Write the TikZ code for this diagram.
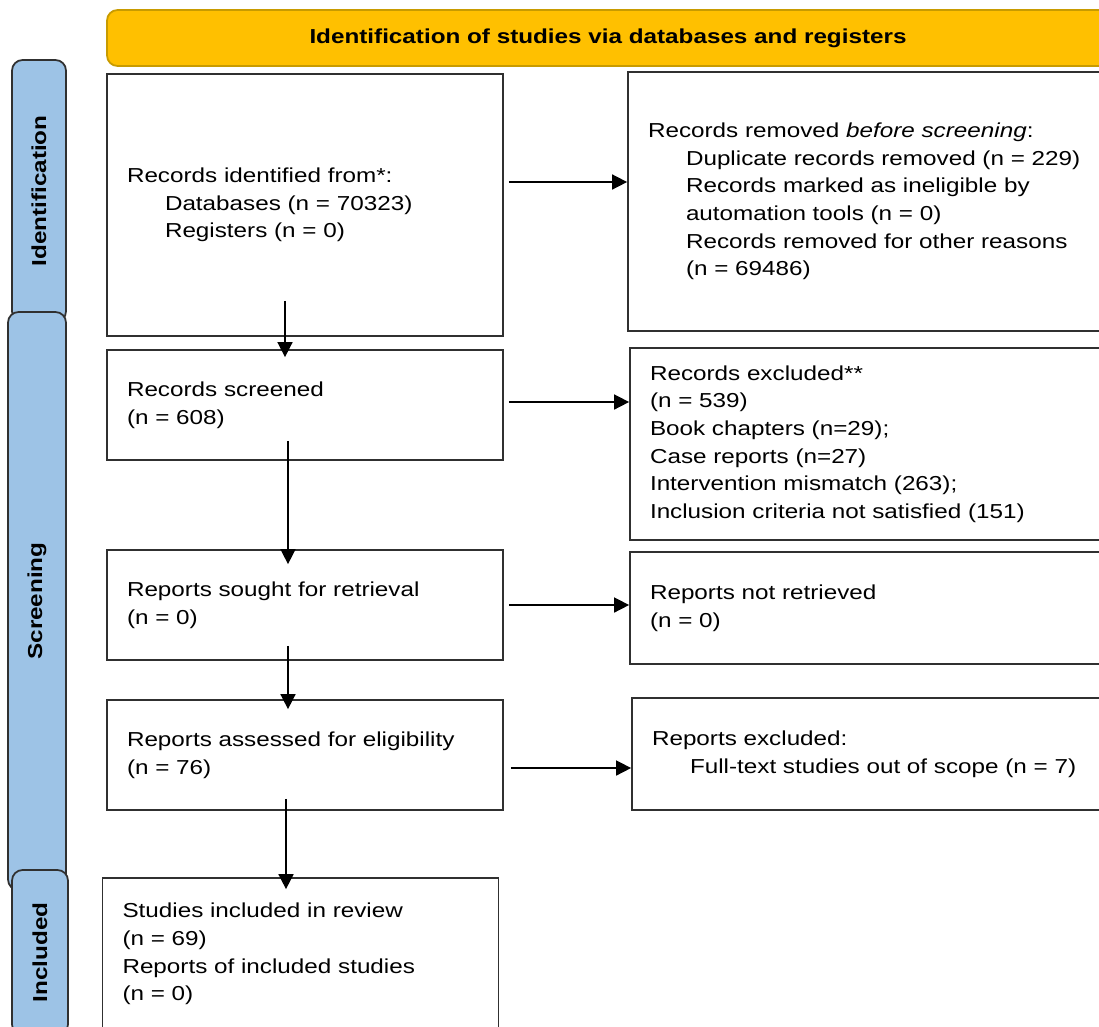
\documentclass[tikz,border=0pt]{standalone}
\usepackage{fontspec}
\setmainfont{Liberation Sans}[FakeStretch=1.2]
\usepackage{xcolor}
\usepackage{tikz}
\usetikzlibrary{arrows.meta,positioning,calc}

\definecolor{bannerfill}{HTML}{FFC000}
\definecolor{bannerline}{HTML}{C89B00}
\definecolor{tabfill}{HTML}{9DC3E6}
\definecolor{boxline}{HTML}{303030}

\begin{document}
\begin{tikzpicture}[
  stage/.style={draw=boxline, line width=1pt, fill=white, minimum width=7.92cm, text width=7.12cm, inner xsep=0.4cm, align=left, font=\fontsize{11.5}{15.7}\selectfont},
  side/.style={draw=boxline, line width=1pt, fill=white, minimum width=9.6cm, text width=8.8cm, inner xsep=0.4cm, align=left, font=\fontsize{11.5}{15.7}\selectfont},
  phase/.style={draw=boxline, line width=1pt, fill=tabfill, rounded corners=6pt, rotate=90, font=\fontsize{11.5}{13}\selectfont\bfseries},
  banner/.style={draw=bannerline, line width=1pt, fill=bannerfill, rounded corners=6pt, minimum width=20.04cm, minimum height=1.12cm, font=\fontsize{11.5}{13}\selectfont\bfseries},
  arr/.style={-{Triangle[length=8.5pt,width=8.5pt]}, line width=0.9pt}
]
\useasboundingbox (0,0) rectangle (21.98,-20.52);

% Banner
\node[banner] (top) at (12.16,-0.76) {Identification of studies via databases and registers};

% Side tabs
\node[phase, minimum width=5.24cm, minimum height=1.08cm] (tabid) at (0.78,-3.82) {Identification};
\node[phase, minimum width=11.56cm, minimum height=1.16cm] (tabscr) at (0.74,-12.02) {Screening};
\node[phase, minimum width=3.3cm, minimum height=1.12cm] (tabinc) at (0.80,-19.05) {Included};

% Main column
\node[stage, minimum height=5.24cm] (ident) at (6.10,-4.10) {Records identified from*:\\
  \hspace*{0.76cm}Databases (n = 70323)\\
  \hspace*{0.76cm}Registers (n = 0)};
\node[stage, minimum height=2.2cm] (screen) at (6.10,-8.10) {Records screened\\(n = 608)};
\node[stage, minimum height=2.2cm] (sought) at (6.10,-12.10) {Reports sought for retrieval\\(n = 0)};
\node[stage, minimum height=2.2cm] (assess) at (6.10,-15.10) {Reports assessed for eligibility\\(n = 76)};
\node[stage, minimum height=3.04cm] (incl) at (6.01,-19.08) {Studies included in review\\(n = 69)\\Reports of included studies\\(n = 0)};

% Right column
\node[side, minimum width=9.64cm, text width=8.84cm, minimum height=5.18cm] (removed) at (17.38,-4.03) {Records removed \textit{before screening}:\\
  \hspace*{0.76cm}Duplicate records removed (n = 229)\\
  \hspace*{0.76cm}Records marked as ineligible by\\
  \hspace*{0.76cm}automation tools (n = 0)\\
  \hspace*{0.76cm}Records removed for other reasons\\
  \hspace*{0.76cm}(n = 69486)};
\node[side, minimum height=3.84cm] (excl) at (17.40,-8.88) {Records excluded**\\(n = 539)\\Book chapters (n=29);\\Case reports (n=27)\\Intervention mismatch (263);\\Inclusion criteria not satisfied (151)};
\node[side, minimum height=2.24cm] (notret) at (17.40,-12.16) {Reports not retrieved\\(n = 0)};
\node[side, minimum width=9.56cm, text width=8.76cm, minimum height=2.24cm] (repexcl) at (17.42,-15.08) {Reports excluded:\\
  \hspace*{0.76cm}Full-text studies out of scope (n = 7)};

% Arrows down
\draw[arr] ([xshift=-0.4cm,yshift=0.72cm]ident.south) -- ([xshift=-0.4cm,yshift=-0.16cm]screen.north);
\draw[arr] ([xshift=-0.34cm,yshift=0.4cm]screen.south) -- ([xshift=-0.34cm,yshift=-0.3cm]sought.north);
\draw[arr] ([xshift=-0.34cm,yshift=0.3cm]sought.south) -- ([xshift=-0.34cm,yshift=-0.2cm]assess.north);
\draw[arr] ([xshift=-0.38cm,yshift=0.24cm]assess.south) -- ([xshift=-0.29cm,yshift=-0.24cm]incl.north);

% Arrows across
\draw[arr] ([xshift=0.1cm,yshift=0.46cm]ident.east) coordinate (a1) -- (a1 -| removed.west);
\draw[arr] ([xshift=0.1cm,yshift=0.06cm]screen.east) coordinate (a2) -- (a2 -| excl.west);
\draw[arr] ([xshift=0.1cm]sought.east) coordinate (a3) -- (a3 -| notret.west);
\draw[arr] ([xshift=0.14cm,yshift=-0.26cm]assess.east) coordinate (a4) -- (a4 -| repexcl.west);

\end{tikzpicture}
\end{document}
